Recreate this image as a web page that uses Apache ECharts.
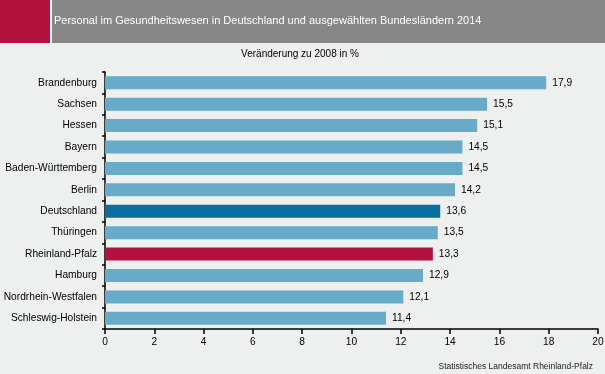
<!DOCTYPE html>
<html><head><meta charset="utf-8">
<script src="https://cdn.jsdelivr.net/npm/echarts@6/dist/echarts.min.js"></script>
<style>html,body{margin:0;padding:0;background:#eeefef}#c{width:605px;height:374px}</style>
</head><body><div id="c"></div>
<script>
const categories = ["Brandenburg","Sachsen","Hessen","Bayern","Baden-Württemberg","Berlin","Deutschland","Thüringen","Rheinland-Pfalz","Hamburg","Nordrhein-Westfalen","Schleswig-Holstein"];
const values = [17.9,15.5,15.1,14.5,14.5,14.2,13.6,13.5,13.3,12.9,12.1,11.4];
const xTicks = [0,2,4,6,8,10,12,14,16,18,20];
const titleText = "Personal im Gesundheitswesen in Deutschland und ausgewählten Bundesländern 2014";
const subtitleText = "Veränderung zu 2008 in %";
const sourceText = "Statistisches Landesamt Rheinland-Pfalz";

const colorFor = c => c === "Deutschland" ? "#0a6fa0" : (c === "Rheinland-Pfalz" ? "#b3123e" : "#67abc8");
const chart = echarts.init(document.getElementById('c'));
const font = "Liberation Sans, Arial, sans-serif";
chart.setOption({
  backgroundColor: "#eeefef",
  animation: false,
  graphic: [
    {type:"rect", shape:{x:0,y:0,width:50,height:43}, style:{fill:"#b3123e"}},
    {type:"rect", shape:{x:52,y:0,width:553,height:43}, style:{fill:"#878787"}},
    {type:"text", x:54, y:21, style:{text:titleText, fill:"#ffffff", font:"11px " + font, textVerticalAlign:"middle"}},
    {type:"text", x:300, y:54, style:{text:subtitleText, fill:"#000", font:"10px " + font, textAlign:"center", textVerticalAlign:"middle"}},
    {type:"text", x:593, y:367, style:{text:sourceText, fill:"#222", font:"8.5px " + font, textAlign:"right", textVerticalAlign:"middle"}}
  ],
  grid: {left:105, right:7, top:72, bottom:45, containLabel:false, outerBoundsMode:"none"},
  xAxis: {
    type:"value", min:0, max:20, interval:2,
    axisLine:{show:true, lineStyle:{color:"#000", width:1.5}},
    axisTick:{show:true, length:5, lineStyle:{color:"#000", width:1.5}},
    axisLabel:{color:"#000", fontSize:10.2, fontFamily:font, margin:8,
      formatter: v => xTicks.includes(v) ? String(v) : ""},
    splitLine:{show:false}
  },
  yAxis: {
    type:"category", data:categories, inverse:true,
    axisLine:{show:true, lineStyle:{color:"#000", width:1.5}},
    axisTick:{show:true, length:3, lineStyle:{color:"#000", width:1.5}},
    axisLabel:{color:"#000", fontSize:10.2, fontFamily:font, margin:8}
  },
  series: [{
    type:"bar",
    data: categories.map((c,i) => ({value: values[i], itemStyle:{color: colorFor(c)}})),
    barWidth: 13,
    label:{show:true, position:"right", distance:6, color:"#000", fontSize:10.2, fontFamily:font,
      formatter: p => p.value.toFixed(1).replace(".", ",")}
  }]
});
</script></body></html>
